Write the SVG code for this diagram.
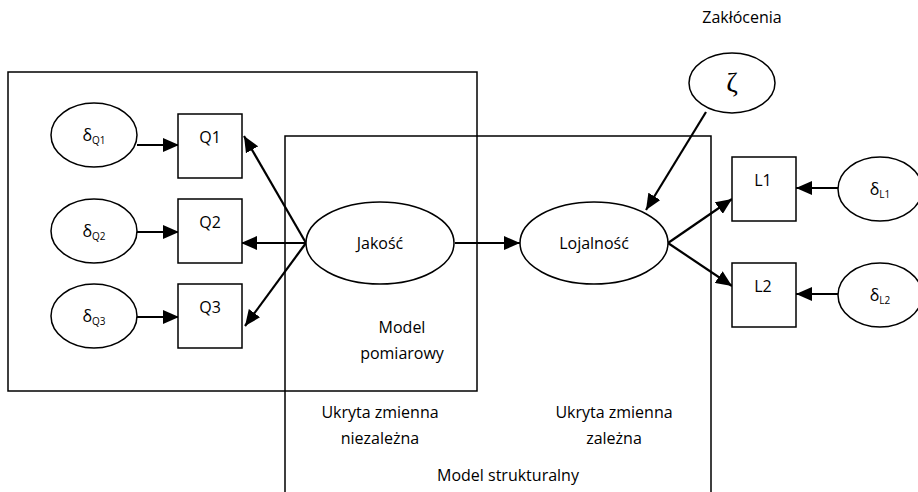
<svg xmlns="http://www.w3.org/2000/svg" width="918" height="492" viewBox="0 0 918 492">
<style>
.frame{fill:none;stroke:#000;stroke-width:1.5}
.node{fill:#fff;stroke:#000;stroke-width:1.5}
.edge{fill:none;stroke:#000;stroke-width:2.2}
text{font-family:"Open Sans","Liberation Sans",Arial,sans-serif;font-size:16px;fill:#000;text-anchor:middle}
.sub{font-size:10px}
.greek{font-family:"Liberation Serif","DejaVu Serif",serif;font-size:28px}
</style>
<defs>
<marker id="ah" markerUnits="userSpaceOnUse" markerWidth="16" markerHeight="14" refX="16" refY="7" orient="auto">
<path d="M0,0 L16,7 L0,14 Z" fill="#000"/>
</marker>
</defs>
<g id="frames">
<rect class="frame" x="8" y="72" width="469" height="319"/>
<path class="frame" d="M285,492 V136 H711 V492"/>
</g>
<g id="connectors">
<line class="edge" x1="137" y1="145" x2="179" y2="145" marker-end="url(#ah)"/>
<line class="edge" x1="137" y1="232" x2="179" y2="232" marker-end="url(#ah)"/>
<line class="edge" x1="137" y1="317" x2="179" y2="317" marker-end="url(#ah)"/>
<line class="edge" x1="306" y1="243" x2="244" y2="136" marker-end="url(#ah)"/>
<line class="edge" x1="306" y1="243" x2="241" y2="243" marker-end="url(#ah)"/>
<line class="edge" x1="306" y1="243" x2="245" y2="326" marker-end="url(#ah)"/>
<line class="edge" x1="455" y1="243" x2="520" y2="243" marker-end="url(#ah)"/>
<line class="edge" x1="706" y1="112" x2="646" y2="210" marker-end="url(#ah)"/>
<line class="edge" x1="668" y1="243" x2="732" y2="199" marker-end="url(#ah)"/>
<line class="edge" x1="668" y1="243" x2="732" y2="286" marker-end="url(#ah)"/>
<line class="edge" x1="838" y1="188" x2="796" y2="188" marker-end="url(#ah)"/>
<line class="edge" x1="838" y1="294" x2="796" y2="294" marker-end="url(#ah)"/>
</g>
<g id="dQ1"><ellipse class="node" cx="94" cy="135" rx="43" ry="32"/><text x="94" y="141">δ<tspan class="sub" dy="3">Q1</tspan></text></g>
<g id="dQ2"><ellipse class="node" cx="94" cy="231" rx="43" ry="32"/><text x="94" y="237">δ<tspan class="sub" dy="3">Q2</tspan></text></g>
<g id="dQ3"><ellipse class="node" cx="94" cy="316" rx="43" ry="32"/><text x="94" y="322">δ<tspan class="sub" dy="3">Q3</tspan></text></g>
<g id="Q1"><rect class="node" x="178" y="114" width="64" height="64"/><text x="210" y="143">Q1</text></g>
<g id="Q2"><rect class="node" x="178" y="199" width="64" height="64"/><text x="210" y="228">Q2</text></g>
<g id="Q3"><rect class="node" x="178" y="284" width="64" height="64"/><text x="210" y="313">Q3</text></g>
<g id="jakosc"><ellipse class="node" cx="380" cy="243" rx="74" ry="41"/><text x="380" y="249">Jakość</text></g>
<g id="lojalnosc"><ellipse class="node" cx="594" cy="243" rx="74" ry="41"/><text x="594" y="249">Lojalność</text></g>
<g id="zeta"><ellipse class="node" cx="732" cy="83" rx="43" ry="30"/><text class="greek" x="732" y="92">ζ</text></g>
<g id="L1"><rect class="node" x="732" y="157" width="64" height="64"/><text x="763" y="186">L1</text></g>
<g id="L2"><rect class="node" x="732" y="263" width="64" height="64"/><text x="763" y="292">L2</text></g>
<g id="dL1"><ellipse class="node" cx="880" cy="189" rx="42" ry="32"/><text x="880" y="195">δ<tspan class="sub" dy="3">L1</tspan></text></g>
<g id="dL2"><ellipse class="node" cx="880" cy="295" rx="42" ry="32"/><text x="880" y="301">δ<tspan class="sub" dy="3">L2</tspan></text></g>
<g id="labels">
<text x="742" y="23">Zakłócenia</text>
<text x="402" y="333">Model</text>
<text x="402" y="359">pomiarowy</text>
<text x="380" y="418">Ukryta zmienna</text>
<text x="380" y="444">niezależna</text>
<text x="614" y="418">Ukryta zmienna</text>
<text x="614" y="444">zależna</text>
<text x="508" y="481">Model strukturalny</text>
</g>
</svg>
